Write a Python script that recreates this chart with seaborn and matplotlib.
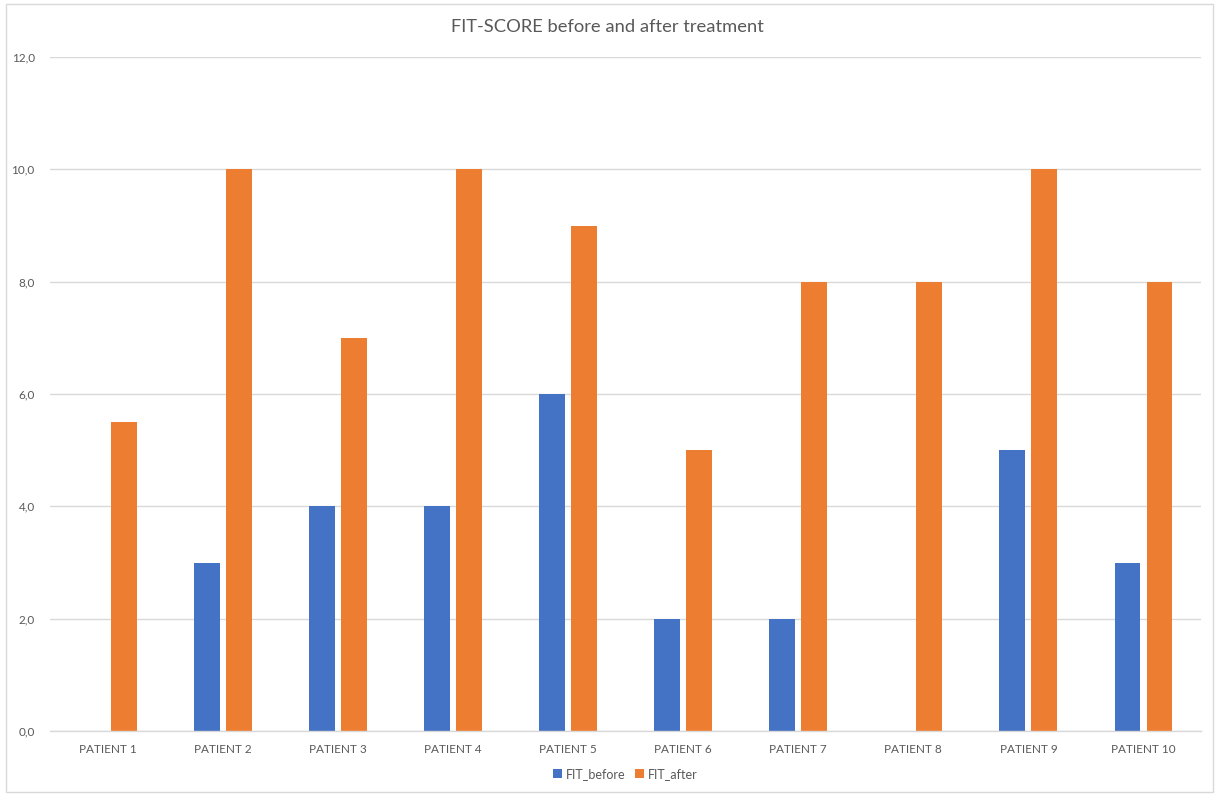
import matplotlib
matplotlib.use("Agg")
import matplotlib.pyplot as plt
from matplotlib.patches import Rectangle
from matplotlib.ticker import FuncFormatter
import pandas as pd
import seaborn as sns

patients = ["PATIENT 1", "PATIENT 2", "PATIENT 3", "PATIENT 4", "PATIENT 5",
            "PATIENT 6", "PATIENT 7", "PATIENT 8", "PATIENT 9", "PATIENT 10"]
fit_before = [0, 3, 4, 4, 6, 2, 2, 0, 5, 3]
fit_after = [5.5, 10, 7, 10, 9, 5, 8, 8, 10, 8]
series_names = ["FIT_before", "FIT_after"]
colors = ["#4472C4", "#ED7D31"]
y_ticks = [0, 2, 4, 6, 8, 10, 12]

df = pd.DataFrame({
    "patient": patients * 2,
    "score": fit_before + fit_after,
    "series": [series_names[0]] * len(patients) + [series_names[1]] * len(patients),
})

sns.set_style("white")
plt.rcParams["font.family"] = ["Lato", "DejaVu Sans"]

text_gray = "#595959"
grid_gray = "#d9d9d9"

fig = plt.figure(figsize=(12.15, 7.94), dpi=100)
ax = fig.add_axes([0.0412, 0.0793, 0.9473, 0.8489])

sns.barplot(data=df, x="patient", y="score", hue="series", order=patients,
            hue_order=series_names, palette=colors, saturation=1,
            width=0.556, gap=0.19, linewidth=0, ax=ax)

ax.set_ylim(0, 12)
ax.set_xlim(-0.5, len(patients) - 0.5)
ax.set_yticks(y_ticks)
ax.yaxis.set_major_formatter(FuncFormatter(lambda v, p: f"{v:.1f}".replace(".", ",")))
ax.yaxis.grid(True, color=grid_gray, linewidth=1)
ax.set_axisbelow(True)
for side in ["left", "right", "top"]:
    ax.spines[side].set_visible(False)
ax.spines["bottom"].set_color(grid_gray)
ax.spines["bottom"].set_linewidth(1)
ax.tick_params(axis="both", length=0, colors=text_gray, labelsize=8.5)
ax.tick_params(axis="y", pad=11)
ax.tick_params(axis="x", pad=9)
ax.set_xlabel("")
ax.set_ylabel("")

fig.text(0.5, 1 - 27 / 794, "FIT-SCORE before and after treatment",
         ha="center", va="center", fontsize=13.2, color=text_gray)

ax.legend(loc="center", bbox_to_anchor=(0.5, (774 - 731) / -674),
          ncol=2, frameon=False, fontsize=9, labelcolor=text_gray,
          handlelength=0.7, handleheight=0.7, handletextpad=0.3,
          columnspacing=0.8)

fig.patches.append(Rectangle((6 / 1215, 2 / 794), 1207 / 1215, 788 / 794,
                             transform=fig.transFigure, fill=False,
                             edgecolor="#d9d9d9", linewidth=1))

fig.savefig("out.png", dpi=100)
